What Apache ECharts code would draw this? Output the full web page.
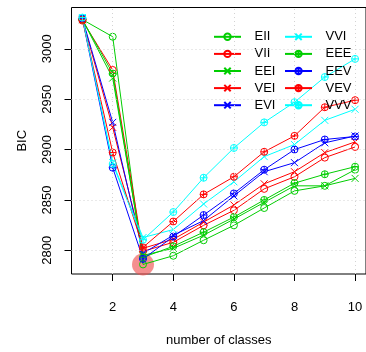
<!DOCTYPE html>
<html>
<head>
<meta charset="utf-8">
<script src="https://cdn.jsdelivr.net/npm/echarts@6/dist/echarts.min.js"></script>
<style>
  html, body { margin: 0; padding: 0; background: #fff; }
  #chart { width: 366px; height: 352px; }
</style>
</head>
<body>
<div id="chart"></div>
<script>
// number of mixture components
var classes = [1, 2, 3, 4, 5, 6, 7, 8, 9, 10]
var xTicks = [2, 4, 6, 8, 10]
var yTicks = [2800, 2850, 2900, 2950, 3000]

// BIC per model
var EII = [3029, 3012, 2786, 2794.6, 2810, 2824.8, 2842, 2859, 2864, 2880]
var VII = [3028, 2979, 2799, 2808, 2824.8, 2839.7, 2861, 2873, 2892, 2902.6]
var EEI = [3029, 2971, 2795, 2802, 2815, 2831, 2847.6, 2864, 2864, 2871.4]
var VEI = [3029, 2922, 2802, 2811, 2828, 2845, 2866, 2878, 2897, 2907.6]
var EVI = [3030, 2927, 2797, 2815, 2829.5, 2854, 2878, 2887, 2906.7, 2913.5]
var VVI = [3031, 2887, 2812.7, 2820.6, 2846, 2868, 2893, 2905, 2929, 2940]
var EEE = [3029, 2975.5, 2793, 2804, 2818, 2833, 2850, 2866.7, 2875.5, 2883]
var EEV = [3030, 2882, 2791.4, 2813.6, 2835, 2856.5, 2880, 2900, 2910, 2913]
var VEV = [3029, 2897, 2803, 2828.6, 2855.5, 2873, 2897.8, 2913.6, 2942, 2949]
var VVV = [3031, 2885.7, 2810.5, 2838, 2872, 2901.6, 2927, 2947, 2972, 2990]

var bestK = 3
var bestBIC = EII[2]

var green = '#00CD00', red = '#FF0000', blue = '#0000FF', cyan = '#00FFFF'
var symCircle = 'path://M8,4A4,4,0,1,1,0,4A4,4,0,1,1,8,4Z'
var symCross = 'path://M0,0L8,8M8,0L0,8'
var symPlus = 'path://M8,4A4,4,0,1,1,0,4A4,4,0,1,1,8,4ZM4,0L4,8M0,4L8,4'

var models = [
  { name: 'EII', data: EII, color: green, symbol: symCircle },
  { name: 'VII', data: VII, color: red, symbol: symCircle },
  { name: 'EEI', data: EEI, color: green, symbol: symCross },
  { name: 'VEI', data: VEI, color: red, symbol: symCross },
  { name: 'EVI', data: EVI, color: blue, symbol: symCross },
  { name: 'VVI', data: VVI, color: cyan, symbol: symCross },
  { name: 'EEE', data: EEE, color: green, symbol: symPlus },
  { name: 'EEV', data: EEV, color: blue, symbol: symPlus },
  { name: 'VEV', data: VEV, color: red, symbol: symPlus },
  { name: 'VVV', data: VVV, color: cyan, symbol: symPlus }
]

var chart = echarts.init(document.getElementById('chart'), null, { renderer: 'canvas' })
var font = 'Liberation Sans, Arial, sans-serif'
var gridLine = { color: '#D3D3D3', width: 1, type: [1, 3] }

var series = []
// highlighted best model
series.push({
  type: 'scatter',
  data: [[bestK, bestBIC]],
  symbol: 'circle',
  symbolSize: 22,
  itemStyle: { color: 'rgba(238, 80, 80, 0.8)' },
  silent: true,
  z: 1,
  markLine: {
    silent: true,
    symbol: 'none',
    label: { show: false },
    lineStyle: gridLine,
    data: xTicks.map(function(v) { return { xAxis: v } }).concat(
      yTicks.map(function(v) { return { yAxis: v } }))
  }
})
models.forEach(function(m) {
  series.push({
    name: m.name,
    type: 'line',
    data: classes.map(function(k, i) { return [k, m.data[i]] }),
    symbol: m.symbol,
    symbolSize: 7,
    showAllSymbol: true,
    lineStyle: { color: m.color, width: 1 },
    itemStyle: { color: 'none', borderColor: m.color, borderWidth: 1 },
    emphasis: { disabled: true },
    z: 3
  })
})

// one legend per entry, two columns of five rows
var legends = models.map(function(m, i) {
  var col = Math.floor(i / 5), row = i % 5
  return {
    data: [m.name],
    left: col === 0 ? 213 : 284,
    top: 34.3 + row * 17.1 - 4,
    padding: 0,
    itemWidth: 27,
    itemHeight: 8,
    selectedMode: false,
    textStyle: { fontSize: 13, color: '#000', fontFamily: font, padding: [0, 0, 0, 8.5] }
  }
})

var option = {
  animation: false,
  grid: {
    left: 71.5, top: 7.5, width: 295.5, height: 278.2,
    show: true, borderColor: '#000', borderWidth: 1, backgroundColor: 'transparent'
  },
  legend: legends,
  xAxis: {
    type: 'value',
    min: 0.64,
    max: 10.36,
    name: 'number of classes',
    nameLocation: 'middle',
    nameGap: 60,
    nameTextStyle: { fontSize: 13, color: '#000', fontFamily: font },
    splitLine: { show: false },
    axisLine: { show: false },
    axisTick: { show: true, length: 7, customValues: xTicks, lineStyle: { color: '#000' } },
    axisLabel: { customValues: xTicks, fontSize: 13, color: '#000', fontFamily: font, margin: 27 }
  },
  yAxis: {
    type: 'value',
    min: 2776.5,
    max: 3041,
    name: 'BIC',
    nameLocation: 'middle',
    nameGap: 43,
    nameTextStyle: { fontSize: 13, color: '#000', fontFamily: font },
    splitLine: { show: false },
    axisLine: { show: false },
    axisTick: { show: true, length: 7, customValues: yTicks, lineStyle: { color: '#000' } },
    axisLabel: {
      customValues: yTicks, rotate: 90, fontSize: 13, color: '#000', fontFamily: font, margin: 18,
      formatter: function(v) { return String(v) }
    }
  },
  series: series
}
chart.setOption(option)
</script>
</body>
</html>
